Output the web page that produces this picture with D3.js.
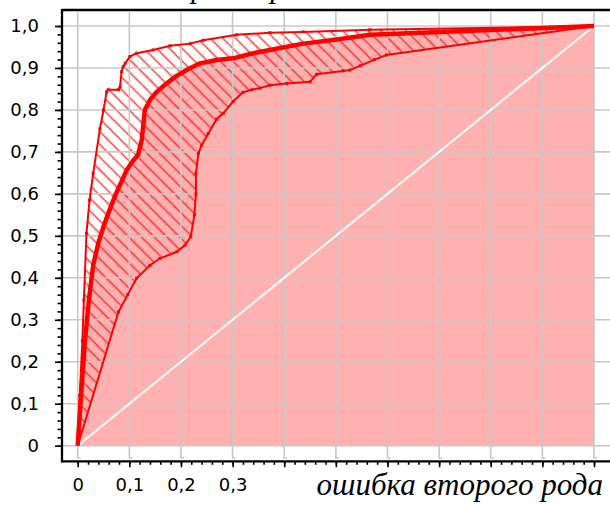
<!DOCTYPE html>
<html>
<head>
<meta charset="utf-8">
<script src="https://cdn.jsdelivr.net/npm/d3@7"></script>
<style>
  html, body { margin: 0; padding: 0; background: #fff; }
  svg { display: block; }
</style>
</head>
<body>
<svg id="chart" width="610" height="505"></svg>
<script>
// ROC-style curve with its confidence band (upper and lower bounds)
const mainX  = [0, 0.006, 0.014, 0.022, 0.030, 0.040, 0.050, 0.060, 0.072, 0.085, 0.095, 0.108, 0.117, 0.124, 0.130, 0.140, 0.153, 0.172, 0.190, 0.211, 0.237, 0.269, 0.301, 0.340, 0.372, 0.437, 0.502, 0.566, 1];
const mainY  = [0, 0.110, 0.250, 0.350, 0.430, 0.483, 0.522, 0.556, 0.594, 0.630, 0.657, 0.680, 0.693, 0.728, 0.800, 0.824, 0.843, 0.863, 0.880, 0.895, 0.911, 0.919, 0.923, 0.935, 0.943, 0.958, 0.968, 0.979, 1];

const upperX = [0, 0.004, 0.009, 0.012, 0.017, 0.023, 0.030, 0.043, 0.050, 0.056, 0.059, 0.079, 0.082, 0.085, 0.088, 0.092, 0.101, 0.114, 0.146, 0.179, 0.218, 0.243, 0.308, 0.372, 0.437, 0.566, 1];
const upperY = [0, 0.120, 0.250, 0.347, 0.506, 0.585, 0.649, 0.755, 0.800, 0.843, 0.848, 0.848, 0.855, 0.891, 0.903, 0.911, 0.927, 0.935, 0.943, 0.953, 0.958, 0.966, 0.979, 0.984, 0.986, 0.991, 1];

const lowerX = [0, 0.079, 0.097, 0.114, 0.140, 0.159, 0.192, 0.208, 0.219, 0.226, 0.229, 0.229, 0.234, 0.240, 0.253, 0.269, 0.282, 0.301, 0.320, 0.337, 0.353, 0.372, 0.405, 0.450, 0.463, 0.514, 0.527, 0.547, 0.575, 0.598, 1];
const lowerY = [0, 0.319, 0.360, 0.399, 0.430, 0.446, 0.462, 0.478, 0.498, 0.550, 0.600, 0.649, 0.697, 0.716, 0.744, 0.778, 0.792, 0.820, 0.842, 0.848, 0.852, 0.859, 0.863, 0.867, 0.885, 0.893, 0.895, 0.905, 0.920, 0.931, 1];

const gridValues  = [0, 0.1, 0.2, 0.3, 0.4, 0.5, 0.6, 0.7, 0.8, 0.9, 1.0];
const xTickLabels = ["0", "0,1", "0,2", "0,3", "", "", "", "", "", "", ""];
const yTickLabels = ["0", "0,1", "0,2", "0,3", "0,4", "0,5", "0,6", "0,7", "0,8", "0,9", "1,0"];
const minorValues = d3.range(0, 51).map(i => i / 50);

const xTitle = "ошибка второго рода";
const yTitle = "ошибка первого рода";

const svg = d3.select("#chart");
const W = 610;
const axisLeftX = 62, frameTopY = 10, axisBottomY = 461.3;

const x = d3.scaleLinear().domain([0, 1]).range([77.7, 594]);
const y = d3.scaleLinear().domain([0, 1]).range([445.7, 26]);

const pts = (xs, ys) => xs.map((v, i) => [v, ys[i]]);
const mainPts = pts(mainX, mainY);
const upperPts = pts(upperX, upperY);
const lowerPts = pts(lowerX, lowerY);

// hatch pattern for the confidence band
const defs = svg.append("defs");
const pat = defs.append("pattern")
  .attr("id", "hatch")
  .attr("patternUnits", "userSpaceOnUse")
  .attr("width", 9).attr("height", 9)
  .attr("patternTransform", "rotate(45)");
pat.append("line")
  .attr("x1", -1).attr("y1", 4.5).attr("x2", 10).attr("y2", 4.5)
  .attr("stroke", "#ff1a1a").attr("stroke-width", 1.5).attr("stroke-opacity", 0.85);

// area under the main curve
const area = d3.area().x(d => x(d[0])).y0(y(0)).y1(d => y(d[1]));
svg.append("path").datum(mainPts)
  .attr("d", area)
  .attr("fill", "#ffb1b1");

// band between upper and lower bounds
const bandPoly = upperPts.concat(lowerPts.slice().reverse());
svg.append("path")
  .attr("d", "M" + bandPoly.map(d => x(d[0]) + "," + y(d[1])).join("L") + "Z")
  .attr("fill", "url(#hatch)");

// grid
const grid = svg.append("g").attr("stroke", "#c8c8c8").attr("stroke-width", 1.6).attr("fill", "none");
gridValues.forEach(v => {
  grid.append("path").attr("d", `M${x(v)},12V458h3`);
  grid.append("line").attr("x1", axisLeftX + 1).attr("x2", W).attr("y1", y(v)).attr("y2", y(v));
});

// chance diagonal
svg.append("line")
  .attr("x1", x(0)).attr("y1", y(0)).attr("x2", x(1)).attr("y2", y(1))
  .attr("stroke", "#fff").attr("stroke-width", 2);

// curves
const line = d3.line().x(d => x(d[0])).y(d => y(d[1]));
[upperPts, lowerPts].forEach(p => {
  svg.append("path").datum(p).attr("d", line)
    .attr("fill", "none").attr("stroke", "#ff0000").attr("stroke-width", 2)
    .attr("stroke-linejoin", "miter");
  svg.append("g").selectAll("rect").data(p.slice(1, -1)).join("rect")
    .attr("x", d => x(d[0]) - 1.5).attr("y", d => y(d[1]) - 1.5)
    .attr("width", 3).attr("height", 3).attr("fill", "#ff0000");
});
svg.append("path").datum(mainPts).attr("d", line)
  .attr("fill", "none").attr("stroke", "#ff0000").attr("stroke-width", 4.5)
  .attr("stroke-linejoin", "round");

// axes: minor and major ticks
const axisFont = "'DejaVu Sans', Verdana, sans-serif";
function styleAxis(g) {
  g.select(".domain").remove();
  g.selectAll(".tick line").attr("stroke", "#000").attr("stroke-width", 1.6);
  g.selectAll("text").attr("fill", "#000").style("font-family", axisFont).style("font-size", "18px");
}

svg.append("g").attr("transform", `translate(0,${axisBottomY})`)
  .call(d3.axisBottom(x).tickValues(minorValues).tickSize(3.5).tickFormat(""))
  .call(styleAxis);
svg.append("g").attr("transform", `translate(0,${axisBottomY})`)
  .call(d3.axisBottom(x).tickValues(gridValues).tickSize(6).tickPadding(11)
    .tickFormat((d, i) => xTickLabels[i]))
  .call(styleAxis);

svg.append("g").attr("transform", `translate(${axisLeftX},0)`)
  .call(d3.axisLeft(y).tickValues(minorValues).tickSize(4.5).tickFormat(""))
  .call(styleAxis);
svg.append("g").attr("transform", `translate(${axisLeftX},0)`)
  .call(d3.axisLeft(y).tickValues(gridValues).tickSize(7).tickPadding(16)
    .tickFormat((d, i) => yTickLabels[i]))
  .call(styleAxis);

// frame lines
const frame = svg.append("g").attr("stroke", "#000").attr("stroke-width", 2.3);
frame.append("line").attr("x1", axisLeftX).attr("x2", W).attr("y1", frameTopY).attr("y2", frameTopY);
frame.append("line").attr("x1", axisLeftX).attr("x2", axisLeftX).attr("y1", frameTopY - 1).attr("y2", axisBottomY + 1);
frame.append("line").attr("x1", axisLeftX - 1).attr("x2", W).attr("y1", axisBottomY).attr("y2", axisBottomY);

// axis titles
const titleFont = "'Liberation Serif', 'Times New Roman', serif";
svg.append("text")
  .attr("x", 603).attr("y", 495)
  .attr("text-anchor", "end")
  .style("font-family", titleFont).style("font-style", "italic").style("font-size", "31px")
  .attr("fill", "#000")
  .text(xTitle);

svg.append("text")
  .attr("x", 55).attr("y", -3.5)
  .style("font-family", titleFont).style("font-style", "italic").style("font-size", "31px")
  .attr("fill", "#000")
  .text(yTitle);
</script>
</body>
</html>
